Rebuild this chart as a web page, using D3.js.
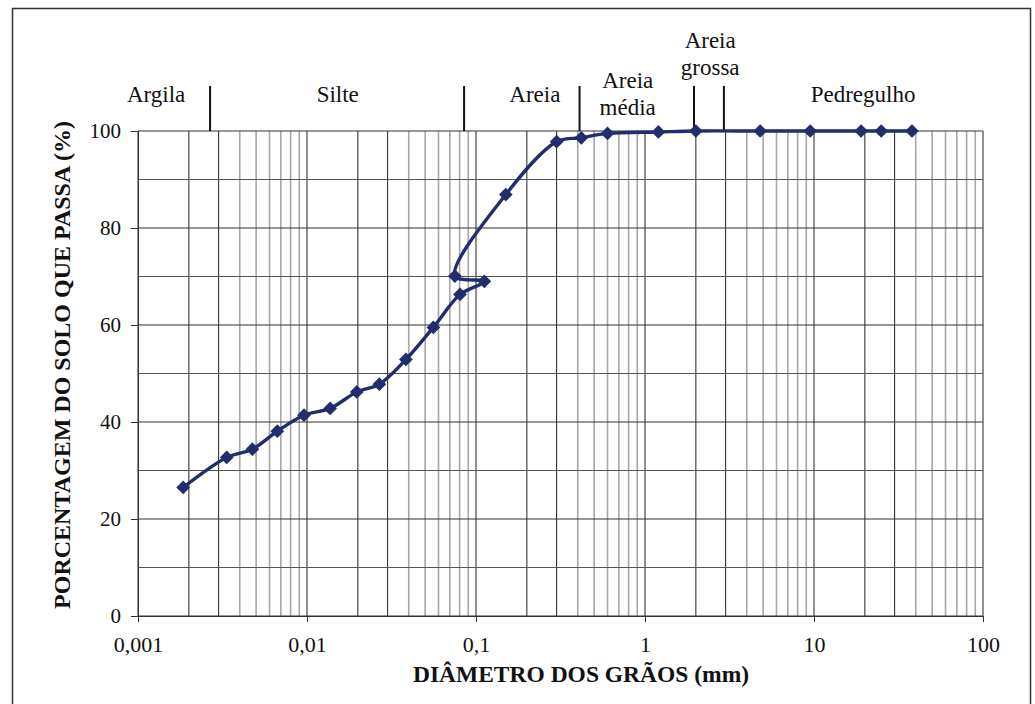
<!DOCTYPE html>
<html lang="pt">
<head>
<meta charset="UTF-8">
<title>Curva granulométrica</title>
<script src="https://d3js.org/d3.v7.min.js"></script>
<style>
  body { margin: 0; background: #fff; }
  text { font-family: "Liberation Serif", "Times New Roman", serif; fill: #111; }
  .title { font-weight: bold; }
</style>
</head>
<body>
<script>
// diâmetros (mm) na ordem em que a curva foi traçada: peneiras e depois sedimentação
var diametros = [38, 25, 19, 9.5, 4.8, 2.0, 1.2, 0.6, 0.42, 0.3, 0.15, 0.075,
                 0.112, 0.0804, 0.0559, 0.0385, 0.0268, 0.0197, 0.0137, 0.0096, 0.00667, 0.00475, 0.00335, 0.00185];
var passa = [100, 100, 100, 100, 100, 100, 99.8, 99.5, 98.6, 97.8, 86.9, 70.1,
             69.0, 66.3, 59.5, 52.9, 47.8, 46.2, 42.8, 41.4, 38.1, 34.4, 32.7, 26.5];

var xTicks = [0.001, 0.01, 0.1, 1, 10, 100];
var xTickLabels = ["0,001", "0,01", "0,1", "1", "10", "100"];
var yTicks = [0, 20, 40, 60, 80, 100];

// limites das frações e rótulos (posição em mm)
var limites = [0.00267, 0.085, 0.41, 1.95, 2.93];
var fracoes = [["Argila"], ["Silte"], ["Areia"], ["Areia", "média"], ["Areia", "grossa"], ["Pedregulho"]];
var fracaoPos = [0.00128, 0.0152, 0.223, 0.79, 2.43, 19.5];

var W = 1035, H = 704;
var svg = d3.select("body").append("svg").attr("width", W).attr("height", H);

// moldura
svg.append("rect").attr("x", 12.5).attr("y", 8.5).attr("width", 1018).attr("height", 720)
  .attr("fill", "none").attr("stroke", "#333").attr("stroke-width", 1.5);

var x = d3.scaleLog().domain([0.001, 100]).range([138, 983]);
var y = d3.scaleLinear().domain([0, 100]).range([616, 131]);

// grade vertical log
var grid = svg.append("g");
var vals = [];
for (var e = -3; e < 2; e++) {
  for (var m = 1; m <= 9; m++) vals.push({v: m * Math.pow(10, e), m: m});
}
vals.push({v: 100, m: 1});
grid.selectAll("line.v").data(vals).enter().append("line")
  .attr("x1", d => x(d.v)).attr("x2", d => x(d.v))
  .attr("y1", y(0)).attr("y2", y(100))
  .attr("stroke", d => d.m <= 3 ? "#222" : "#a8a8a8")
  .attr("stroke-width", d => d.m <= 3 ? 1 : 1.6);

// grade horizontal
grid.selectAll("line.h").data(d3.range(0, 101, 10)).enter().append("line")
  .attr("x1", x(0.001)).attr("x2", x(100))
  .attr("y1", d => y(d)).attr("y2", d => y(d))
  .attr("stroke", d => d % 20 === 0 ? "#333" : "#555").attr("stroke-width", 1);

// eixos
var yAxis = svg.append("g").attr("transform", "translate(" + x(0.001) + ",0)")
  .call(d3.axisLeft(y).tickValues(yTicks).tickSize(7).tickPadding(10));
yAxis.select(".domain").attr("stroke", "#333");
yAxis.selectAll("line").attr("stroke", "#333");
yAxis.selectAll("text").style("font-size", "21px").attr("fill", "#111");

var xAxis = svg.append("g").attr("transform", "translate(0," + y(0) + ")")
  .call(d3.axisBottom(x).tickValues(xTicks).tickFormat((d, i) => xTickLabels[i]).tickSize(6).tickPadding(14));
xAxis.select(".domain").attr("stroke", "#333");
xAxis.selectAll("line").attr("stroke", "#333");
xAxis.selectAll("text").style("font-size", "22px").attr("fill", "#111");

// títulos
svg.append("text").attr("class", "title").attr("x", 581).attr("y", 682)
  .attr("text-anchor", "middle").style("font-size", "23.5px").text("DIÂMETRO DOS GRÃOS (mm)");
svg.append("text").attr("class", "title")
  .attr("transform", "translate(70,365) rotate(-90)")
  .attr("text-anchor", "middle").style("font-size", "24px").text("PORCENTAGEM DO SOLO QUE PASSA (%)");

// limites das frações
svg.selectAll("line.lim").data(limites).enter().append("line")
  .attr("x1", d => x(d)).attr("x2", d => x(d)).attr("y1", 86).attr("y2", y(100))
  .attr("stroke", "#111").attr("stroke-width", 2);

var lab = svg.selectAll("text.fr").data(fracoes).enter().append("text")
  .attr("text-anchor", "middle").style("font-size", "23px")
  .attr("x", (d, i) => x(fracaoPos[i]))
  .attr("y", d => d.length === 1 ? 102 : 0);
lab.each(function(d, i) {
  if (d.length === 1) { d3.select(this).text(d[0]); return; }
  var top = i === 4 ? 48 : 88;
  d.forEach(function(s, k) {
    d3.select(this).append("tspan").attr("x", x(fracaoPos[i])).attr("y", top + k * 27).text(s);
  }, this);
});

// curva
var pts = diametros.map((d, i) => [x(d), y(passa[i])]);
var cor = "#222d6d";
svg.append("path").datum(pts)
  .attr("d", d3.line().curve(d3.curveCatmullRom.alpha(0.5)))
  .attr("fill", "none").attr("stroke", cor).attr("stroke-width", 3.4);

svg.selectAll("path.mk").data(pts).enter().append("path")
  .attr("transform", d => "translate(" + d[0] + "," + d[1] + ")")
  .attr("d", d3.symbol().type(d3.symbolDiamond2).size(120))
  .attr("fill", cor);
</script>
</body>
</html>
